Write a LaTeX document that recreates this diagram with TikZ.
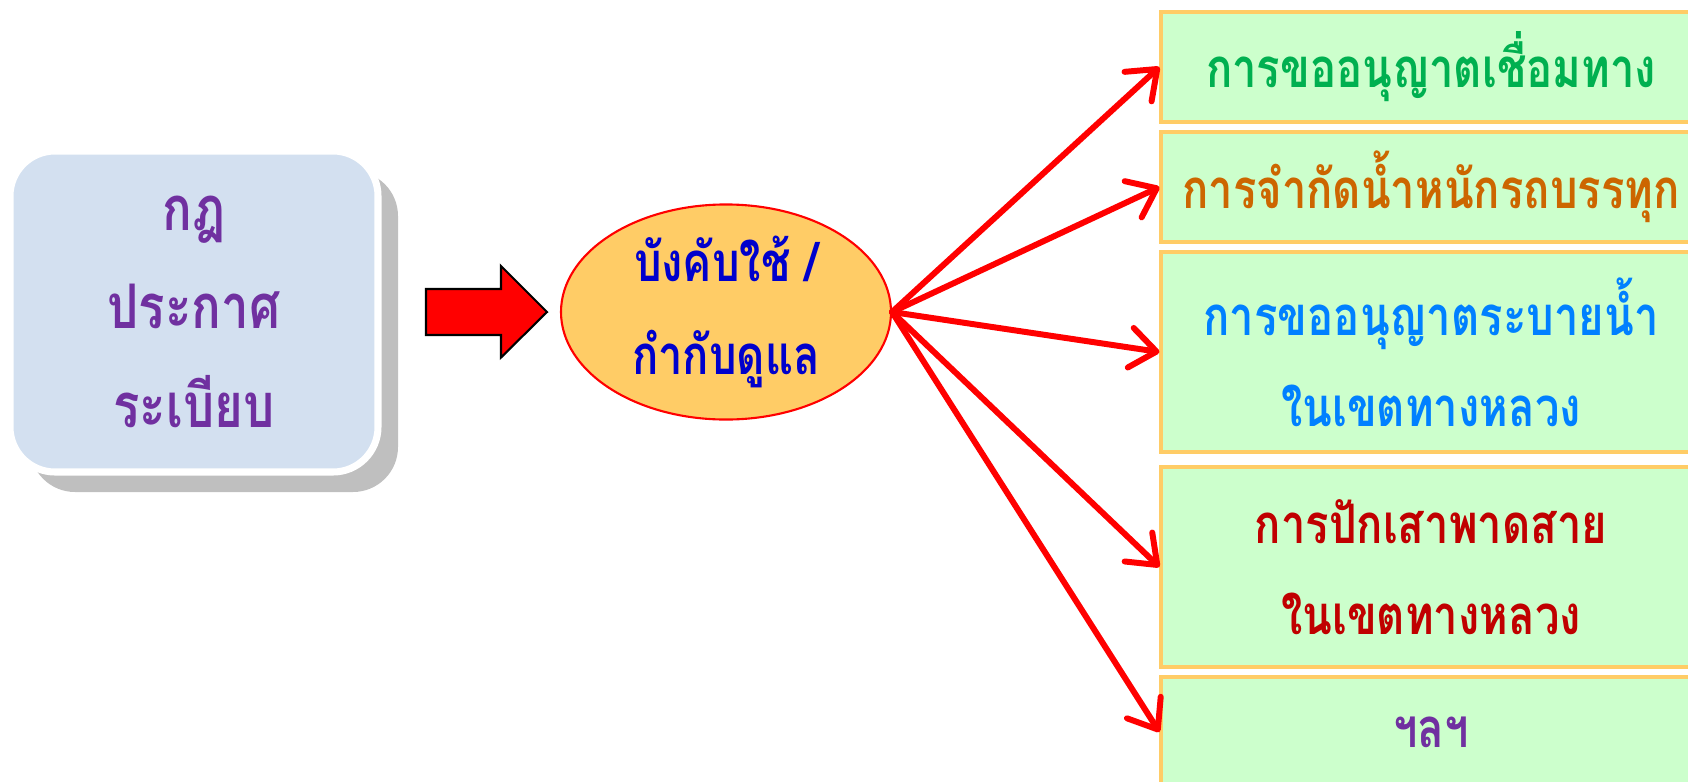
\documentclass[tikz,border=0pt]{standalone}
\usepackage{fontspec}
\newfontfamily\thaifont[Script=Thai, FakeStretch=0.8]{Loma}
\usetikzlibrary{positioning,arrows.meta,shapes.geometric,shadows}
\definecolor{lawfill}{RGB}{211,224,240}
\definecolor{lawtext}{RGB}{112,48,160}
\definecolor{hubfill}{RGB}{255,204,102}
\definecolor{hubtext}{RGB}{0,0,204}
\definecolor{itemfill}{RGB}{204,255,204}
\definecolor{itemedge}{RGB}{255,204,102}
\definecolor{txgreen}{RGB}{0,176,80}
\definecolor{txbrown}{RGB}{204,102,0}
\definecolor{txblue}{RGB}{0,128,255}
\definecolor{txred}{RGB}{192,0,0}

\begin{document}
\begin{tikzpicture}[
  font=\thaifont\bfseries,
  lawbox/.style={rounded corners=4.5mm, fill=lawfill, draw=white, line width=2pt,
                 minimum width=36.8mm, minimum height=32.1mm, align=center, text=lawtext,
                 font=\thaifont\bfseries\fontsize{17.5}{28}\selectfont,
                 drop shadow={shadow xshift=2mm, shadow yshift=-2mm, fill=black!25, opacity=1}},
  hub/.style={ellipse, fill=hubfill, draw=red, line width=0.6pt, inner sep=0pt,
              minimum width=33mm, minimum height=21mm, align=center, text=hubtext,
              font=\thaifont\bfseries\fontsize{15.5}{26.5}\selectfont},
  item/.style={rectangle, fill=itemfill, draw=itemedge, line width=0.9pt, inner sep=0pt,
               minimum width=54mm, minimum height=11mm, align=center,
               font=\thaifont\bfseries\fontsize{15.5}{26}\selectfont},
  tall/.style={minimum height=20mm},
  link/.style={draw=red, line width=1.7pt, line cap=round, line join=round,
               -{Straight Barb[length=2.6mm, width=4mm, round]}},
  push/.style={fill=red, draw=black, line width=0.6pt, line join=miter},
]
\clip (0,0) rectangle (16.88,-7.82);

% ==================== source : rules ====================
\node[lawbox] (law) at (1.94,-3.115) {กฎ\\ประกาศ\\ระเบียบ};

% ==================== block arrow ====================
\coordinate (push) at (4.26,-3.12);
\draw[push] (push) ++(0,0.23) -- ++(0.75,0) -- ++(0,0.23) -- (5.47,-3.12)
  -- (5.01,-3.575) -- ++(0,0.225) -- (4.26,-3.35) -- cycle;

% ==================== hub ====================
\node[hub] (hub) at (7.26,-3.12) {บังคับใช้ /\\กำกับดูแล};

% ==================== items ====================
\node[item, text=txgreen] (it1) at (14.31,-0.67) {การขออนุญาตเชื่อมทาง};
\node[item, text=txbrown] (it2) at (14.31,-1.87) {การจำกัดน้ำหนักรถบรรทุก};
\node[item, tall, text=txblue] (it3) at (14.31,-3.52) {การขออนุญาตระบายน้ำ\\ในเขตทางหลวง};
\node[item, tall, text=txred] (it4) at (14.31,-5.67) {การปักเสาพาดสาย\\ในเขตทางหลวง};
\node[item, text=lawtext] (it5) at (14.31,-7.32) {ฯลฯ};

% ==================== links ====================
\draw[link] (hub.east) -- (it1.west);
\draw[link] (hub.east) -- (it2.west);
\draw[link] (hub.east) -- (it3.west);
\draw[link] (hub.east) -- (it4.west);
\draw[link] (hub.east) -- (it5.west);

\end{tikzpicture}
\end{document}
